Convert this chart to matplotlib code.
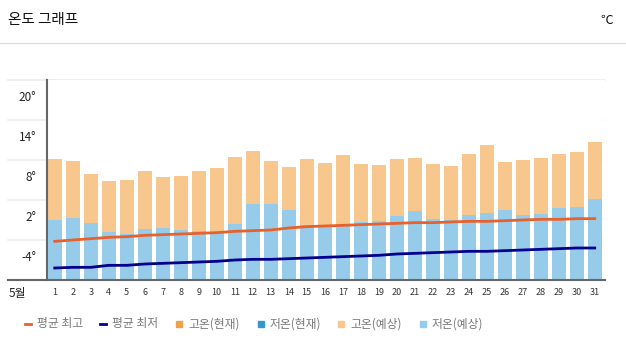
import matplotlib.pyplot as plt
from matplotlib.lines import Line2D
from matplotlib.transforms import ScaledTranslation

plt.rcParams['font.family'] = ['Noto Sans CJK KR', 'DejaVu Sans']

days = list(range(1, 32))
hi_fc = [8.15, 7.9, 5.9, 4.9, 5.0, 6.4, 5.5, 5.65, 6.4, 6.8,
         8.45, 9.35, 7.9, 6.95, 8.15, 7.55, 8.75, 7.4, 7.25, 8.15,
         8.3, 7.4, 7.1, 8.9, 10.25, 7.7, 8.0, 8.3, 8.9, 9.2, 10.7]
lo_fc = [-1.0, -0.66, -1.45, -2.8, -3.1, -2.35, -2.15, -2.5, -2.7, -3.0,
         -1.6, 1.45, 1.45, 0.5, -1.75, -2.05, -1.75, -1.3, -1.15, -0.35,
         0.35, -0.85, -1.0, -0.25, 0.0, 0.5, -0.2, -0.1, 0.8, 1.0, 2.15]
avg_hi = [-4.2, -4.0, -3.8, -3.6, -3.5, -3.3, -3.2, -3.1, -3.0, -2.9,
          -2.7, -2.6, -2.5, -2.2, -2.0, -1.9, -1.8, -1.7, -1.6, -1.5,
          -1.4, -1.4, -1.3, -1.2, -1.2, -1.1, -1.0, -0.9, -0.9, -0.8, -0.8]
avg_lo = [-8.2, -8.1, -8.1, -7.8, -7.8, -7.6, -7.5, -7.4, -7.3, -7.2,
          -7.0, -6.9, -6.9, -6.8, -6.7, -6.6, -6.5, -6.4, -6.3, -6.1,
          -6.0, -5.9, -5.8, -5.7, -5.7, -5.6, -5.5, -5.4, -5.3, -5.2, -5.2]
yticks = [-4, 2, 8, 14, 20]
ymin, ymax = -10, 20

W, H = 626, 345
fig = plt.figure(figsize=(W / 100, H / 100), dpi=100)
ax = fig.add_axes([47 / W, 1 - 280 / H, (605 - 47) / W, 200 / H])

c_hi_fc = '#F8C78D'
c_lo_fc = '#96CCEA'
ax.bar(days, [h - ymin for h in hi_fc], bottom=ymin, width=0.76, color=c_hi_fc, zorder=2)
ax.bar(days, [l - ymin for l in lo_fc], bottom=ymin, width=0.76, color=c_lo_fc, zorder=3)
ax.plot(days, avg_hi, color='#E8602C', lw=2, zorder=4)
ax.plot(days, avg_lo, color='#00008B', lw=2, zorder=4)

ax.set_xlim(0.57, 31.57)
ax.set_ylim(ymin, ymax)
for s in ['top', 'right', 'bottom']:
    ax.spines[s].set_visible(False)
ax.spines['left'].set_color('#666666')
ax.spines['left'].set_linewidth(1.5)

ax.set_xticks(days)
ax.set_xticklabels([str(d) for d in days], fontsize=6.5, color='#333333')
ax.tick_params(axis='x', length=0, pad=6)
ax.set_yticks(yticks)
ax.set_yticklabels([f'{v}°' for v in yticks], fontsize=8.5, color='#222222')
ax.tick_params(axis='y', length=0, pad=8)
off = ScaledTranslation(0, -0.16, fig.dpi_scale_trans)
for lab in ax.get_yticklabels():
    lab.set_transform(lab.get_transform() + off)

# gridlines extend left of the axis
for v in yticks + [ymax]:
    yf = 1 - (280 - (v - ymin) * 200 / 30) / H
    fig.add_artist(Line2D([8 / W, 605 / W], [yf, yf], color='#EEEEEE', lw=1.2, zorder=0))
yb = 1 - 280 / H
fig.add_artist(Line2D([8 / W, 605 / W], [yb, yb], color='#666666', lw=1.5, zorder=5))

fig.text(9 / W, 1 - 293 / H, '5월', fontsize=8.5, va='center', color='#222222')

# header
fig.text(8 / W, 1 - 20 / H, '온도 그래프', fontsize=10.5, va='center', color='#111111')
fig.text(613 / W, 1 - 20 / H, '℃', fontsize=9, va='center', ha='right', color='#111111')
fig.add_artist(Line2D([0, 1], [1 - 43 / H, 1 - 43 / H], color='#DDDDDD', lw=1))

# legend
leg = [('line', '#E8602C', '평균 최고', 25),
       ('line', '#00008B', '평균 최저', 100),
       ('sq', '#F0A04B', '고온(현재)', 176),
       ('sq', '#3399CC', '저온(현재)', 258),
       ('sq', '#F8C78D', '고온(예상)', 338),
       ('sq', '#96CCEA', '저온(예상)', 420)]
ly = 1 - 324 / H
for kind, col, txt, x in leg:
    if kind == 'line':
        fig.add_artist(Line2D([x / W, (x + 6) / W], [ly, ly], color=col, lw=2))
    else:
        fig.patches.append(plt.Rectangle((x / W, ly - 3 / H), 6 / W, 6 / H, color=col,
                                         transform=fig.transFigure, figure=fig))
    fig.text((x + 12) / W, ly, txt, fontsize=8.5, va='center', color='#777777')

fig.savefig('out.png', dpi=100)
